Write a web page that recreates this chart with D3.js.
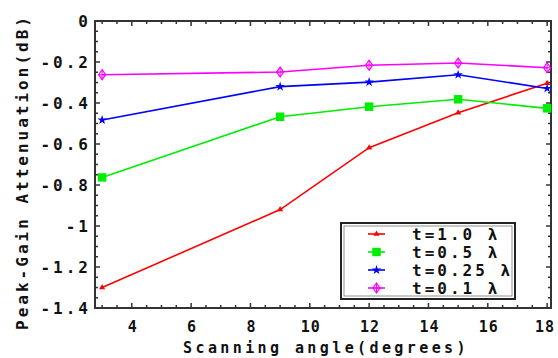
<!DOCTYPE html>
<html><head><meta charset="utf-8">
<script src="https://cdn.jsdelivr.net/npm/d3@7"></script>
<style>body{margin:0;background:#fff}svg{display:block}
text{font-family:"DejaVu Sans Mono","Liberation Mono",monospace;font-size:16px;font-weight:bold;letter-spacing:3px;fill:#111}</style>
</head><body><svg id="c" width="558" height="358"></svg>
<script>
const angles = [3, 9, 12, 15, 18];
const t10 = [-1.30, -0.92, -0.618, -0.447, -0.304];
const t05 = [-0.763, -0.467, -0.418, -0.382, -0.426];
const t025 = [-0.483, -0.320, -0.298, -0.262, -0.329];
const t01 = [-0.262, -0.249, -0.216, -0.205, -0.228];
const seriesNames = ["t=1.0 λ", "t=0.5 λ", "t=0.25 λ", "t=0.1 λ"];
const seriesColors = ["#ff0000", "#00ee00", "#0000ff", "#ff00ff"];
const seriesMarkers = ["triangle", "square", "star", "diamond"];
const xTicks = [4, 6, 8, 10, 12, 14, 16, 18];
const yTicks = [0, -0.2, -0.4, -0.6, -0.8, -1, -1.2, -1.4];
const xLabel = "Scanning angle(degrees)";
const yLabel = "Peak-Gain Attenuation(dB)";

const allSeries = [t10, t05, t025, t01];
const svg = d3.select("#c");
const L = 95, R = 551, T = 21, B = 308;
const x = d3.scaleLinear().domain([2.76, 18.13]).range([L, R]);
const y = d3.scaleLinear().domain([-1.4, 0]).range([B, T]);

const g = svg.append("g");
const xMinor = d3.range(3, 18.01, 0.5);
const yMinor = d3.range(-1.4, 0.001, 0.05);
const tickCol = "#333";
xMinor.forEach(v => {
  const major = Math.abs(v - Math.round(v)) < 1e-6 && Math.round(v) % 2 === 0;
  const len = major ? 5 : 3;
  g.append("line").attr("x1", x(v)).attr("x2", x(v)).attr("y1", B).attr("y2", B - len).attr("stroke", tickCol).attr("stroke-width", 1.5);
  g.append("line").attr("x1", x(v)).attr("x2", x(v)).attr("y1", T).attr("y2", T + len).attr("stroke", tickCol).attr("stroke-width", 1.5);
});
yMinor.forEach(v => {
  const major = Math.abs(v * 5 - Math.round(v * 5)) < 1e-6;
  const len = major ? 5 : 3;
  g.append("line").attr("y1", y(v)).attr("y2", y(v)).attr("x1", L).attr("x2", L + len).attr("stroke", tickCol).attr("stroke-width", 1.5);
  g.append("line").attr("y1", y(v)).attr("y2", y(v)).attr("x1", R).attr("x2", R - len).attr("stroke", tickCol).attr("stroke-width", 1.5);
});
g.append("rect").attr("x", L).attr("y", T).attr("width", R - L).attr("height", B - T)
  .attr("fill", "none").attr("stroke", "#333").attr("stroke-width", 2);

const fmtY = v => v === 0 ? "0" : (+v.toFixed(1)).toString();
yTicks.forEach(v => {
  g.append("text").attr("x", 91).attr("y", y(v)).attr("dy", "0.35em").attr("text-anchor", "end").text(fmtY(v));
});
xTicks.forEach(v => {
  g.append("text").attr("x", Math.min(x(v) + 1, 545)).attr("y", 327).attr("dy", "0.35em").attr("text-anchor", "middle")
    .style("font-size", "15px").style("letter-spacing", "1px").text(v);
});
g.append("text").attr("x", 326).attr("y", 348).attr("dy", "0.35em").attr("text-anchor", "middle")
  .style("font-size", "15px").style("letter-spacing", "3.4px").text(xLabel);
g.append("text").attr("transform", "translate(22,172) rotate(-90)").attr("dy", "0.35em").attr("text-anchor", "middle").text(yLabel);

function marker(sel, type, color, cx, cy) {
  if (type === "triangle") {
    sel.append("path").attr("d", d3.symbol(d3.symbolTriangle, 16)()).attr("transform", `translate(${cx},${cy})`).attr("fill", color);
  } else if (type === "square") {
    sel.append("path").attr("d", d3.symbol(d3.symbolSquare, 72)()).attr("transform", `translate(${cx},${cy})`).attr("fill", color);
  } else if (type === "star") {
    sel.append("path").attr("d", d3.symbol(d3.symbolStar, 28)()).attr("transform", `translate(${cx},${cy})`).attr("fill", color);
  } else {
    sel.append("path").attr("d", `M${cx},${cy-5}L${cx+3.5},${cy}L${cx},${cy+5}L${cx-3.5},${cy}Z`).attr("fill", "none").attr("stroke", color).attr("stroke-width", 1.2);
    sel.append("path").attr("d", `M${cx-3.5},${cy}H${cx+3.5}M${cx},${cy-5}V${cy+5}`).attr("stroke", color).attr("stroke-width", 1);
  }
}

const line = d3.line().x((d, i) => x(angles[i])).y(d => y(d));
allSeries.forEach((s, k) => {
  g.append("path").datum(s).attr("d", line).attr("fill", "none").attr("stroke", seriesColors[k]).attr("stroke-width", 1.6);
  s.forEach((v, i) => marker(g, seriesMarkers[k], seriesColors[k], x(angles[i]), y(v)));
});

const lg = g.append("g");
lg.append("rect").attr("x", 341).attr("y", 223).attr("width", 174).attr("height", 76).attr("fill", "#fff").attr("stroke", "#222").attr("stroke-width", 2);
lg.append("rect").attr("x", 344).attr("y", 226).attr("width", 168).attr("height", 70).attr("fill", "none").attr("stroke", "#777").attr("stroke-width", 0.8);
seriesNames.forEach((n, k) => {
  const yy = 234 + k * 18;
  lg.append("line").attr("x1", 368).attr("x2", 385).attr("y1", yy).attr("y2", yy).attr("stroke", seriesColors[k]).attr("stroke-width", 1.6);
  marker(lg, seriesMarkers[k], seriesColors[k], 376.5, yy);
  lg.append("text").attr("x", 412).attr("y", yy).attr("dy", "0.35em").text(n);
});
</script></body></html>
